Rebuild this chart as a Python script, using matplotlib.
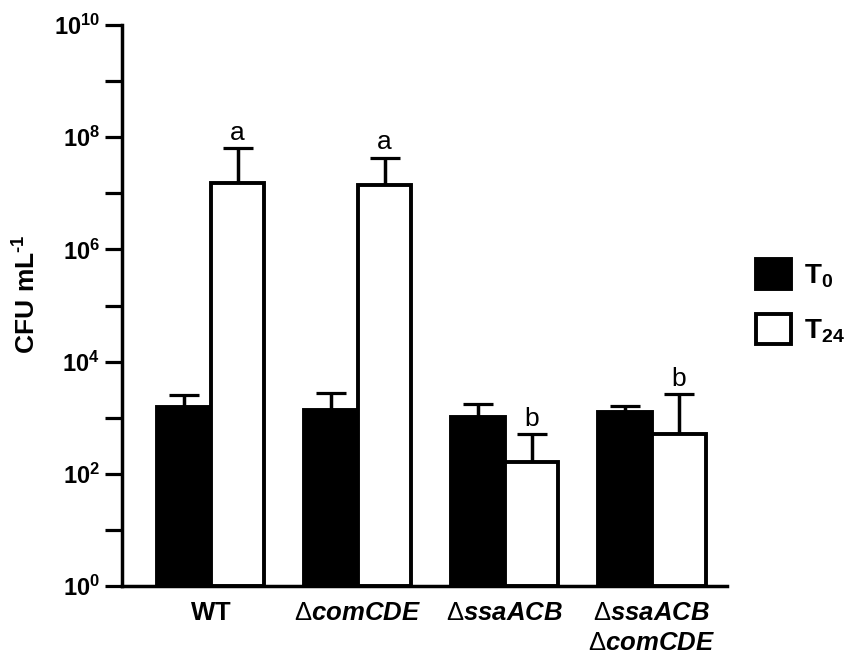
import numpy as np
import matplotlib
matplotlib.use("Agg")
import matplotlib.pyplot as plt

plt.rcParams['font.family'] = ['Liberation Sans', 'DejaVu Sans']
plt.rcParams['mathtext.fontset'] = 'custom'
plt.rcParams['mathtext.rm'] = 'Liberation Sans'
plt.rcParams['mathtext.it'] = 'Liberation Sans:italic:bold'
plt.rcParams['mathtext.bf'] = 'Liberation Sans:bold'

# strains and CFU values
strains = [r'$\mathbf{WT}$', r'$\Delta\mathit{comCDE}$', r'$\Delta\mathit{ssaACB}$',
           '$\\Delta\\mathit{ssaACB}$\n$\\Delta\\mathit{comCDE}$']
t0_mean = [1550, 1380, 1030, 1260]
t0_top = [2530, 2760, 1750, 1620]
t24_mean = [1.52e7, 1.4e7, 162, 510]
t24_top = [6.4e7, 4.3e7, 510, 2640]
letters = ['a', 'a', 'b', 'b']

x = np.arange(len(strains))
w = 0.364

fig = plt.figure(figsize=(8.47, 6.58), dpi=100)
ax = fig.add_axes([0.144, 0.1094, 0.7143, 0.8526])

t0_err = [np.zeros(len(x)), np.array(t0_top) - np.array(t0_mean)]
t24_err = [np.zeros(len(x)), np.array(t24_top) - np.array(t24_mean)]

b0 = ax.bar(x - w / 2, t0_mean, w, bottom=1, color='black', edgecolor='black',
            linewidth=2.8, zorder=2, label=r'$\mathbf{T_0}$')
b24 = ax.bar(x + w / 2, t24_mean, w, bottom=1, color='white', edgecolor='black',
             linewidth=2.8, zorder=2, label=r'$\mathbf{T_{24}}$')
ax.errorbar(x - w / 2, t0_mean, yerr=t0_err, fmt='none', ecolor='black',
            elinewidth=2.5, capsize=10.5, capthick=2.3, zorder=1)
ax.errorbar(x + w / 2, t24_mean, yerr=t24_err, fmt='none', ecolor='black',
            elinewidth=2.5, capsize=10.5, capthick=2.3, zorder=1)

for xi, top, lab in zip(x, t24_top, letters):
    ax.annotate(lab, xy=(xi + w / 2, top), xytext=(0, 6), textcoords='offset points',
                ha='center', va='baseline', fontsize=19)

ax.set_yscale('log')
ax.set_ylim(1, 1e10)
ax.set_xlim(-0.605, 3.51)
ax.set_yticks([10.0 ** k for k in range(11)])
ax.set_yticklabels([r'$\mathbf{10^{%d}}$' % k if k % 2 == 0 else '' for k in range(11)])
ax.yaxis.set_minor_locator(matplotlib.ticker.NullLocator())
ax.tick_params(axis='y', length=12, width=2.3, labelsize=17, pad=4)
ax.set_xticks(x)
ax.set_xticklabels(strains, fontsize=18.5, linespacing=1.3)
ax.tick_params(axis='x', length=0, pad=11)

for s in ['top', 'right']:
    ax.spines[s].set_visible(False)
for s in ['left', 'bottom']:
    ax.spines[s].set_linewidth(2.5)

fig.text(27 / 847, 1 - 294 / 658, '$\\mathbf{CFU\\ mL^{\u20101}}$', rotation=90,
         ha='center', va='center', fontsize=19)

ax.legend(handles=[b0, b24], loc='upper left', bbox_to_anchor=(756 / 847, 1 - 259 / 658),
          bbox_transform=fig.transFigure, frameon=False, fontsize=20, borderpad=0,
          borderaxespad=0, handlelength=1.26, handleheight=1.26, handletextpad=0.45,
          labelspacing=0.88)

fig.savefig('out.png', dpi=100)
